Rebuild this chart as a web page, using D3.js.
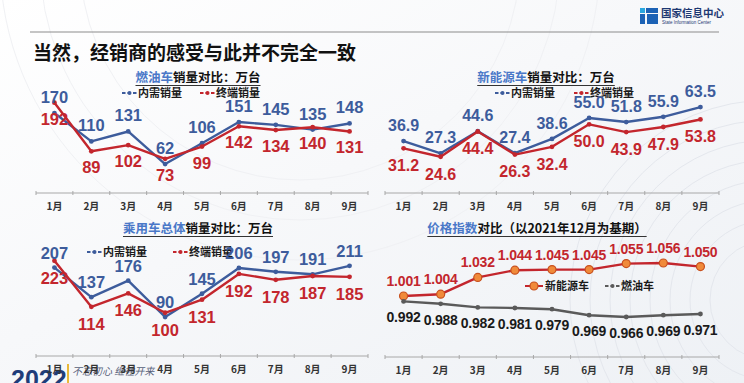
<!DOCTYPE html>
<html><head><meta charset="utf-8">
<script src="https://cdn.jsdelivr.net/npm/d3@7/dist/d3.min.js"></script>
<style>
html,body{margin:0;padding:0;background:#fff;}
svg{display:block;}
</style></head>
<body>
<svg id="c" width="744" height="383"></svg>
<script>
const months = ["1月","2月","3月","4月","5月","6月","7月","8月","9月"];
const iceDomestic = [170,110,131,62,106,151,145,135,148];
const iceRetail   = [192,89,102,73,99,142,134,140,131];
const nevDomestic = [36.9,27.3,44.6,27.4,38.6,55.0,51.8,55.9,63.5];
const nevRetail   = [31.2,24.6,44.4,26.3,32.4,50.0,43.9,47.9,53.8];
const pvDomestic  = [207,137,176,90,145,206,197,191,211];
const pvRetail    = [223,114,146,100,131,192,178,187,185];
const priceNEV    = [1.001,1.004,1.032,1.044,1.045,1.045,1.055,1.056,1.050];
const priceICE    = [0.992,0.988,0.982,0.981,0.979,0.969,0.966,0.969,0.971];
const legendDomestic = "内需销量", legendRetail = "终端销量";
const legendNEV = "新能源车", legendICE = "燃油车";

const NUMF = "'Liberation Sans', Arial, 'Noto Sans CJK SC', sans-serif";
const CJKF = "'Noto Sans CJK SC', 'Liberation Sans', sans-serif";
const BLUE = "#3d5c9c", RED = "#c3262d", GRAY = "#5a5a5a", TBLUE = "#4a78c8";

const svg = d3.select("#c");
// background
const defs = svg.append("defs");
const bg = defs.append("linearGradient").attr("id","bg").attr("x1",0).attr("y1",0).attr("x2",1).attr("y2",1);
bg.append("stop").attr("offset","0%").attr("stop-color","#ffffff");
bg.append("stop").attr("offset","45%").attr("stop-color","#f7f8fa");
bg.append("stop").attr("offset","100%").attr("stop-color","#eef1f5");
svg.append("rect").attr("width",744).attr("height",383).attr("fill","url(#bg)");
const arcs = svg.append("g").attr("fill","none").attr("stroke","#e4e7ed").attr("stroke-width",1);
[60,80,100,120,140,160,180,200].forEach(r=>arcs.append("circle").attr("cx",770).attr("cy",300).attr("r",r));
[220,260,300].forEach(r=>svg.append("circle").attr("cx",300).attr("cy",-40).attr("r",r).attr("fill","none").attr("stroke","#f0f1f4"));

// header
svg.append("line").attr("x1",30).attr("x2",719).attr("y1",32).attr("y2",32).attr("stroke","#8c8c8c").attr("stroke-width",1.2);
svg.append("text").attr("x",33).attr("y",60).attr("font-family",CJKF).attr("font-weight",700)
  .attr("font-size",19).attr("fill","#111").text("当然，经销商的感受与此并不完全一致");
// logo
const logo = svg.append("g");
logo.append("rect").attr("x",640).attr("y",8).attr("width",5).attr("height",5).attr("fill","#2aa7df");
logo.append("rect").attr("x",646).attr("y",8).attr("width",12).attr("height",5).attr("fill","#1c62b5");
logo.append("rect").attr("x",640).attr("y",14).attr("width",5).attr("height",10).attr("fill","#1c62b5");
logo.append("rect").attr("x",647).attr("y",14).attr("width",11).attr("height",10).attr("fill","#1c62b5");
logo.append("text").attr("x",661).attr("y",17).attr("font-family",CJKF).attr("font-size",10.5).attr("font-weight",700).attr("fill","#1d3872").text("国家信息中心");
logo.append("text").attr("x",662).attr("y",24).attr("font-family",NUMF).attr("font-size",4.5).attr("fill","#1d3872").text("State Information Center");

// footer
svg.append("text").attr("x",11).attr("y",388).attr("font-family",NUMF).attr("font-weight",700).attr("font-size",25).attr("fill","#1f3d7a").text("2022");
svg.append("rect").attr("x",67).attr("y",364).attr("width",2).attr("height",19).attr("fill","#e8b93a");
svg.append("text").attr("x",72).attr("y",375).attr("font-family",CJKF).attr("font-style","italic").attr("font-size",10).attr("fill","#56607a").text("不忘初心 继往开来");

function chartTitle(cx, y, blueText, rest){
  const t = svg.append("text").attr("x",cx).attr("y",y).attr("text-anchor","middle")
    .attr("font-family",CJKF).attr("font-weight",700).attr("font-size",12.5).attr("fill","#111");
  t.append("tspan").attr("fill",TBLUE).text(blueText);
  t.append("tspan").text(rest);
  const b = t.node().getBBox();
  svg.append("line").attr("x1",b.x).attr("x2",b.x+b.width).attr("y1",y+3.5).attr("y2",y+3.5)
    .attr("stroke","#333").attr("stroke-width",1);
}

function legendDash(x, y, color, text){
  const g = svg.append("g");
  g.append("line").attr("x1",x).attr("x2",x+15).attr("y1",y).attr("y2",y)
    .attr("stroke",color).attr("stroke-width",2).attr("stroke-dasharray","3.5,2");
  g.append("circle").attr("cx",x+7.5).attr("cy",y).attr("r",2).attr("fill",color);
  g.append("text").attr("x",x+16).attr("y",y).attr("dy","0.35em").attr("font-family",CJKF)
    .attr("font-weight",700).attr("font-size",11).attr("fill","#1a1a1a").text(text);
}
function legendCircle(x, y, text){
  const g = svg.append("g");
  g.append("line").attr("x1",x).attr("x2",x+18).attr("y1",y).attr("y2",y).attr("stroke",RED).attr("stroke-width",2);
  g.append("circle").attr("cx",x+9).attr("cy",y).attr("r",4).attr("fill","#f08a3a").attr("stroke","#c8501e").attr("stroke-width",1.2);
  g.append("text").attr("x",x+20).attr("y",y).attr("dy","0.35em").attr("font-family",CJKF)
    .attr("font-weight",700).attr("font-size",11).attr("fill","#1a1a1a").text(text);
}

function drawChart(cfg){
  const x = d3.scaleBand().domain(months).range(cfg.xRange).padding(0);
  const y = d3.scaleLinear().domain(cfg.yDomain).range(cfg.yRange);
  const g = svg.append("g");
  const cx = m => x(m) + x.bandwidth()/2;
  // axis
  const ax = g.append("g").attr("transform",`translate(0,${cfg.axisY})`)
    .call(d3.axisBottom(x).tickSize(0).tickPadding(10));
  ax.select(".domain").remove();
  ax.selectAll("text").attr("font-family",CJKF).attr("font-weight",700).attr("font-size",10).attr("fill","#333");
  g.append("line").attr("x1",cfg.xRange[0]).attr("x2",cfg.xRange[1]).attr("y1",cfg.axisY).attr("y2",cfg.axisY)
    .attr("stroke","#a8a8a8").attr("stroke-width",1);
  const edges = d3.range(months.length+1).map(i => cfg.xRange[0] + i*x.step());
  g.selectAll(".edge").data(edges).join("line").attr("x1",d=>d).attr("x2",d=>d)
    .attr("y1",cfg.axisY-2).attr("y2",cfg.axisY+2).attr("stroke","#a8a8a8");
  // series
  cfg.series.forEach(s => {
    const line = d3.line().x((v,i)=>cx(months[i])).y(v=>y(v));
    g.append("path").datum(s.values).attr("d",line).attr("fill","none")
      .attr("stroke",s.color).attr("stroke-width",2.4).attr("stroke-linejoin","round");
    g.selectAll(null).data(s.values).join("circle")
      .attr("cx",(v,i)=>cx(months[i])).attr("cy",v=>y(v))
      .attr("r",s.marker==="big"?4:2.4)
      .attr("fill",s.marker==="big"?"#f08a3a":s.color)
      .attr("stroke",s.marker==="big"?"#c8501e":"none").attr("stroke-width",1.2);
  });
  cfg.series.forEach(s => {
    g.selectAll(null).data(s.values).join("text")
      .attr("x",(v,i)=>cx(months[i])).attr("y",v=>y(v)+s.dy).attr("dy","0.36em")
      .attr("text-anchor","middle").attr("font-family",NUMF).attr("font-weight",700)
      .attr("font-size",cfg.fontSize).attr("letter-spacing",cfg.spacing||0).attr("fill",s.labelColor)
      .text(v => s.fmt(v));
  });
}

const fmtInt = v => d3.format("d")(v);
const fmt1 = v => d3.format(".1f")(v);
const fmt3 = v => d3.format(".3f")(v);

// Chart 1: ICE
chartTitle(198, 82, "燃油车", "销量对比：万台");
legendDash(122, 93, BLUE, legendDomestic);
legendDash(200, 93, RED, legendRetail);
drawChart({xRange:[36,368], yDomain:[0,200], yRange:[193.3,98.9], axisY:193, fontSize:16.5,
  series:[
    {values:iceDomestic, color:BLUE, labelColor:BLUE, dy:-16, fmt:fmtInt},
    {values:iceRetail, color:RED, labelColor:RED, dy:16, fmt:fmtInt}
  ]});

// Chart 2: NEV
chartTitle(546, 82, "新能源车", "销量对比：万台");
legendDash(495, 93, BLUE, legendDomestic);
legendDash(574, 93, RED, legendRetail);
drawChart({xRange:[385,719], yDomain:[0,80], yRange:[188.2,86], axisY:193, fontSize:16,
  series:[
    {values:nevDomestic, color:BLUE, labelColor:BLUE, dy:-16, fmt:fmt1},
    {values:nevRetail, color:RED, labelColor:RED, dy:17, fmt:fmt1}
  ]});

// Chart 3: PV total
chartTitle(198, 233, "乘用车总体", "销量对比：万台");
legendDash(87, 252, BLUE, legendDomestic);
legendDash(173, 252, RED, legendRetail);
drawChart({xRange:[36,368], yDomain:[0,250], yRange:[355,249.4], axisY:356, fontSize:16.5,
  series:[
    {values:pvDomestic, color:BLUE, labelColor:BLUE, dy:-15, fmt:fmtInt},
    {values:pvRetail, color:RED, labelColor:RED, dy:17, fmt:fmtInt}
  ]});

// Chart 4: price index
chartTitle(537, 233, "价格指数", "对比（以2021年12月为基期）");
legendCircle(525, 286, legendNEV);
legendDash(605, 286, GRAY, legendICE);
drawChart({xRange:[385,719], yDomain:[0.9,1.1], yRange:[356.6,236.6], axisY:357, fontSize:14, spacing:-0.2,
  series:[
    {values:priceNEV, color:RED, labelColor:RED, dy:-15, fmt:fmt3, marker:"big"},
    {values:priceICE, color:GRAY, labelColor:"#1a1a1a", dy:16, fmt:fmt3}
  ]});
</script>
</body></html>
